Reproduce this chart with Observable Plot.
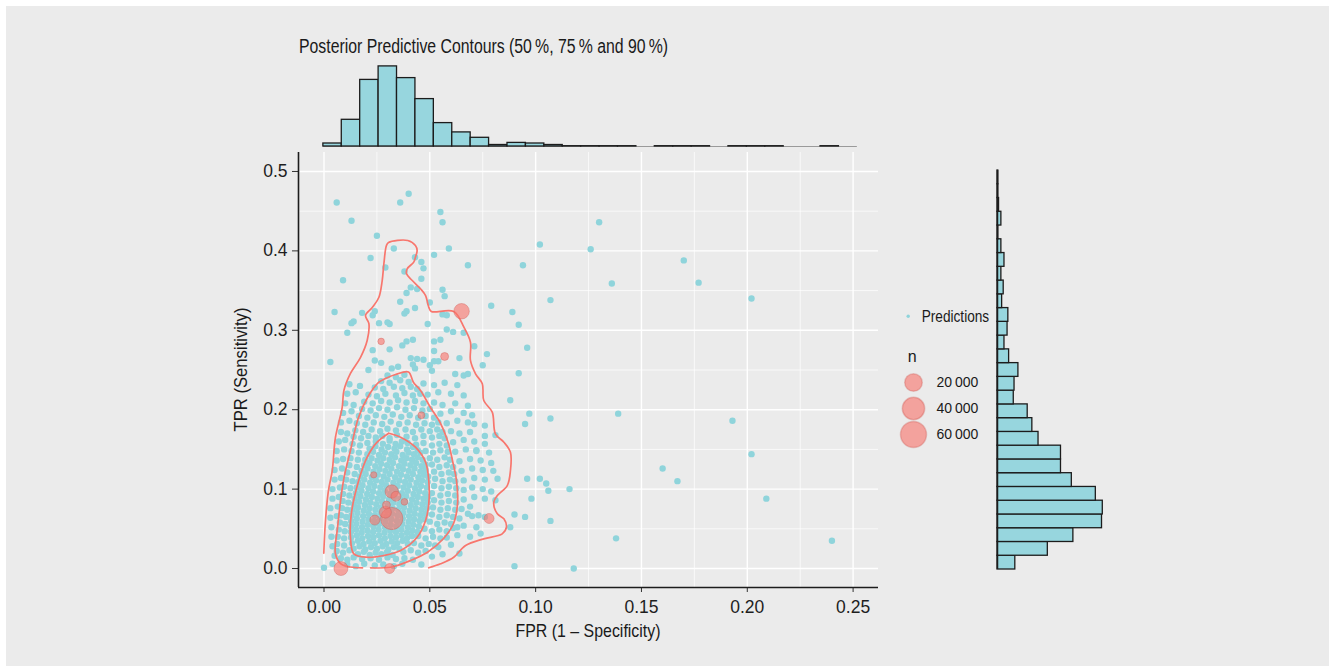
<!DOCTYPE html>
<html><head><meta charset="utf-8">
<script src="https://cdn.jsdelivr.net/npm/d3@7"></script>
<script src="https://cdn.jsdelivr.net/npm/@observablehq/plot@0.6"></script>
<style>
html,body{margin:0;padding:0;background:#fff;}
#root{position:relative;width:1335px;height:672px;overflow:hidden;background:#fff}
#panel{position:absolute;left:6px;top:6px;width:1323px;height:660px;background:#ebebeb}
.abs{position:absolute}
.abs svg{display:block;overflow:visible}
</style></head><body>
<div id="root"><div id="panel"></div></div>
<script>
// ---------------- data ----------------
const title = "Posterior Predictive Contours (50\u2009%, 75\u2009% and 90\u2009%)";
const xLabel = "FPR (1 \u2013 Specificity)";
const yLabel = "TPR (Sensitivity)";
const xMajorTicks = [0, 0.05, 0.10, 0.15, 0.20, 0.25];
const xMinorTicks = [0.025, 0.075, 0.125, 0.175, 0.225];
const yMajorTicks = [0, 0.1, 0.2, 0.3, 0.4, 0.5];
const yMinorTicks = [0.05, 0.15, 0.25, 0.35, 0.45];

// observed studies (red circles)
const studyFPR = [0.065, 0.057, 0.027, 0.046, 0.032, 0.034, 0.038, 0.0295, 0.029, 0.032, 0.024, 0.078, 0.008, 0.031, 0.0235];
const studyTPR = [0.324, 0.267, 0.286, 0.193, 0.097, 0.091, 0.084, 0.080, 0.071, 0.063, 0.061, 0.063, 0.000, 0.000, 0.118];
const studyN   = [13500, 600, 50, 150, 8200, 2400, 100, 600, 5400, 40000, 2400, 2400, 9600, 2400, 20];
const legendN = [20000, 40000, 60000];

// posterior predictions (cyan points) [FPR, TPR]
const predSparse = [[0.006,0.461],[0.040,0.472],[0.036,0.461],[0.013,0.438],[0.055,0.449],[0.056,0.436],[0.130,0.436],[0.025,0.419],[0.102,0.408],[0.126,0.402],[0.033,0.403],[0.059,0.403],[0.022,0.391],[0.052,0.395],[0.043,0.392],[0.046,0.386],[0.047,0.378],[0.029,0.379],[0.068,0.382],[0.094,0.382],[0.038,0.374],[0.009,0.363],[0.046,0.365],[0.041,0.354],[0.044,0.352],[0.056,0.351],[0.057,0.343],[0.039,0.347],[0.107,0.338],[0.036,0.336],[0.050,0.335],[0.079,0.331],[0.089,0.323],[0.005,0.323],[0.018,0.322],[0.024,0.324],[0.023,0.319],[0.043,0.328],[0.039,0.324],[0.038,0.321],[0.056,0.320],[0.058,0.319],[0.014,0.311],[0.013,0.309],[0.026,0.309],[0.030,0.310],[0.031,0.308],[0.049,0.308],[0.092,0.307],[0.011,0.297],[0.058,0.301],[0.061,0.298],[0.066,0.297],[0.042,0.288],[0.052,0.286],[0.055,0.288],[0.039,0.286],[0.037,0.281],[0.071,0.280],[0.096,0.278],[0.023,0.275],[0.031,0.276],[0.052,0.274],[0.077,0.270],[0.003,0.260],[0.024,0.262],[0.027,0.259],[0.041,0.265],[0.044,0.264],[0.047,0.263],[0.052,0.261],[0.054,0.261],[0.064,0.265],[0.075,0.256],[0.021,0.250],[0.032,0.252],[0.035,0.254],[0.042,0.257],[0.043,0.252],[0.050,0.256],[0.051,0.249],[0.062,0.245],[0.066,0.243],[0.068,0.245],[0.092,0.246],
[0.170,0.388],[0.136,0.359],[0.177,0.360],[0.202,0.340],[0.139,0.195],[0.193,0.186],[0.160,0.126],[0.167,0.110],[0.202,0.144],[0.209,0.088],[0.138,0.038],[0.240,0.035],
[0.088,0.212],[0.097,0.195],[0.107,0.189],[0.071,0.182],[0.076,0.180],[0.095,0.182],[0.081,0.168],[0.076,0.167],[0.072,0.149],[0.080,0.123],[0.082,0.113],[0.096,0.113],[0.102,0.113],[0.105,0.107],[0.106,0.098],[0.116,0.100],[0.098,0.088],[0.090,0.068],[0.095,0.065],[0.107,0.060],[0.088,0.052],[0.074,0.044],[0.090,0.003],[0.118,0.000],[0.081,0.086],[0.076,0.065],[0.073,0.067],[0.068,0.069],[0.063,0.052],[0.064,0.019],[0.000,0.001]];

const predOuter = [[0.012,0.232],[0.017,0.230],[0.047,0.233],[0.052,0.231],[0.057,0.234],[0.063,0.231],
[0.011,0.220],[0.015,0.222],[0.049,0.219],[0.054,0.222],[0.060,0.220],[0.066,0.218],
[0.010,0.208],[0.014,0.206],[0.052,0.209],[0.056,0.206],[0.062,0.208],[0.068,0.205],
[0.009,0.196],[0.013,0.198],[0.055,0.195],[0.060,0.198],[0.066,0.196],[0.070,0.193],
[0.008,0.184],[0.012,0.186],[0.058,0.183],[0.063,0.186],[0.068,0.184],
[0.008,0.172],[0.011,0.170],[0.060,0.173],[0.064,0.170],[0.069,0.172],
[0.007,0.160],[0.010,0.162],[0.061,0.159],[0.066,0.162],[0.071,0.160],[0.076,0.157],
[0.006,0.148],[0.0095,0.150],[0.062,0.147],[0.067,0.150],[0.072,0.148],[0.078,0.146],
[0.006,0.136],[0.009,0.138],[0.064,0.135],[0.069,0.138],[0.074,0.136],[0.079,0.133],
[0.005,0.124],[0.0085,0.126],[0.065,0.123],[0.070,0.126],[0.075,0.124],
[0.005,0.112],[0.008,0.114],[0.066,0.111],[0.071,0.114],[0.076,0.112],
[0.004,0.100],[0.0075,0.102],[0.066,0.099],[0.070,0.102],[0.075,0.100],[0.079,0.097],
[0.004,0.088],[0.007,0.090],[0.066,0.087],[0.071,0.090],[0.076,0.088],
[0.003,0.076],[0.0065,0.078],[0.065,0.075],[0.069,0.078],
[0.003,0.064],[0.006,0.066],[0.064,0.063],[0.070,0.066],
[0.0035,0.052],[0.061,0.051],[0.066,0.054],[0.072,0.052],
[0.0035,0.040],[0.058,0.039],[0.063,0.042],[0.069,0.040],
[0.004,0.028],[0.054,0.027],[0.060,0.030],
[0.005,0.016],[0.051,0.015],[0.056,0.018],
[0.004,0.006],[0.046,0.005]];

const predRing = [[0.030,0.243],[0.034,0.241],[0.038,0.244],
[0.027,0.236],[0.031,0.234],[0.036,0.237],[0.040,0.235],
[0.024,0.228],[0.028,0.226],[0.033,0.229],[0.037,0.227],[0.041,0.229],[0.044,0.226],
[0.021,0.219],[0.025,0.217],[0.029,0.220],[0.034,0.218],[0.038,0.221],[0.042,0.218],[0.0455,0.220],
[0.019,0.210],[0.023,0.208],[0.027,0.211],[0.031,0.209],[0.035,0.212],[0.039,0.209],[0.043,0.211],[0.047,0.208],
[0.018,0.201],[0.022,0.199],[0.026,0.202],[0.030,0.200],[0.0345,0.203],[0.0385,0.200],[0.0425,0.202],[0.0465,0.199],[0.050,0.201],
[0.0165,0.192],[0.0205,0.190],[0.0245,0.193],[0.0285,0.191],[0.0325,0.194],[0.0365,0.191],[0.0405,0.193],[0.0445,0.190],[0.048,0.192],[0.052,0.190],
[0.0155,0.183],[0.0195,0.181],[0.0235,0.184],[0.0275,0.182],[0.0315,0.185],[0.0355,0.182],[0.0395,0.184],[0.0435,0.181],[0.0475,0.183],[0.051,0.181],[0.054,0.184],
[0.0148,0.174],[0.0185,0.172],[0.0225,0.175],[0.0265,0.173],[0.030,0.176],[0.034,0.174],[0.0385,0.175],[0.042,0.172],[0.046,0.175],[0.050,0.173],[0.0535,0.175],[0.056,0.172],
[0.014,0.166],[0.0175,0.164],[0.021,0.167],[0.0245,0.165],[0.039,0.166],[0.043,0.164],[0.047,0.167],[0.051,0.165],[0.0545,0.167],[0.057,0.164],
[0.0135,0.157],[0.017,0.155],[0.0205,0.158],[0.0435,0.156],[0.047,0.158],[0.051,0.155],[0.0545,0.157],[0.058,0.155],
[0.013,0.148],[0.0165,0.146],[0.048,0.148],[0.0515,0.146],[0.055,0.149],[0.0585,0.147],
[0.0125,0.139],[0.016,0.137],[0.050,0.139],[0.0535,0.137],[0.057,0.140],[0.0595,0.137],
[0.012,0.130],[0.0155,0.128],[0.051,0.131],[0.0545,0.128],[0.058,0.130],[0.061,0.128],
[0.011,0.121],[0.0145,0.119],[0.052,0.122],[0.0555,0.119],[0.059,0.121],[0.0615,0.119],
[0.0105,0.112],[0.0135,0.110],[0.0525,0.113],[0.056,0.110],[0.0595,0.112],[0.062,0.110],
[0.0095,0.103],[0.0125,0.101],[0.052,0.104],[0.0555,0.101],[0.059,0.103],[0.0625,0.101],
[0.009,0.094],[0.012,0.092],[0.051,0.095],[0.055,0.092],[0.0585,0.094],[0.062,0.092],
[0.0088,0.085],[0.0115,0.083],[0.052,0.086],[0.0555,0.083],[0.059,0.085],[0.0625,0.083],
[0.0085,0.076],[0.011,0.074],[0.0515,0.077],[0.055,0.074],[0.0585,0.076],[0.062,0.074],
[0.008,0.067],[0.0105,0.065],[0.051,0.068],[0.0545,0.065],[0.058,0.067],[0.061,0.065],
[0.0075,0.058],[0.010,0.056],[0.050,0.059],[0.0535,0.056],[0.057,0.058],[0.060,0.056],
[0.007,0.049],[0.0098,0.047],[0.0475,0.050],[0.051,0.047],[0.0545,0.049],[0.058,0.047],
[0.0065,0.040],[0.0095,0.038],[0.0445,0.041],[0.048,0.038],[0.0515,0.040],[0.055,0.038],
[0.0062,0.031],[0.0095,0.029],[0.0425,0.032],[0.046,0.029],[0.0495,0.031],[0.0525,0.029],
[0.006,0.022],[0.009,0.020],[0.012,0.023],[0.0375,0.021],[0.041,0.023],[0.0445,0.020],[0.048,0.022],
[0.008,0.013],[0.011,0.011],[0.014,0.014],[0.018,0.012],[0.022,0.013],[0.026,0.011],[0.030,0.014],[0.034,0.012],[0.038,0.013],[0.042,0.011],
[0.011,0.005],[0.015,0.003],[0.019,0.006],[0.024,0.004],[0.028,0.005],[0.033,0.003],[0.037,0.006]];

const predCore = [[0.0275,0.167],[0.031,0.164],[0.0345,0.168],
[0.0245,0.160],[0.0278,0.157],[0.031,0.161],[0.0338,0.157],[0.0368,0.160],[0.0395,0.158],
[0.0215,0.151],[0.0243,0.154],[0.0272,0.150],[0.0303,0.153],[0.0333,0.151],[0.036,0.154],[0.0392,0.150],[0.042,0.153],[0.0443,0.149],
[0.0205,0.144],[0.0232,0.147],[0.026,0.143],[0.0288,0.146],[0.0318,0.144],[0.0342,0.147],[0.0372,0.143],[0.040,0.146],[0.0425,0.144],[0.0455,0.146],
[0.0195,0.137],[0.0225,0.139],[0.0253,0.136],[0.028,0.139],[0.031,0.137],[0.0336,0.140],[0.0365,0.136],[0.039,0.139],[0.0416,0.137],[0.0442,0.140],[0.0466,0.137],
[0.019,0.130],[0.0215,0.133],[0.0242,0.129],[0.027,0.132],[0.0298,0.130],[0.0326,0.133],[0.0354,0.129],[0.038,0.132],[0.0408,0.130],[0.0435,0.133],[0.046,0.129],[0.048,0.131],
[0.0178,0.123],[0.0206,0.126],[0.0234,0.122],[0.0262,0.125],[0.029,0.123],[0.0318,0.126],[0.0345,0.122],[0.0373,0.125],[0.040,0.123],[0.0428,0.126],[0.0455,0.122],[0.048,0.124],
[0.017,0.116],[0.0197,0.119],[0.0226,0.115],[0.0254,0.118],[0.0282,0.116],[0.031,0.119],[0.0336,0.115],[0.0364,0.118],[0.0392,0.116],[0.042,0.119],[0.0446,0.115],[0.0472,0.118],[0.0492,0.116],
[0.0162,0.109],[0.019,0.112],[0.0218,0.108],[0.0246,0.111],[0.0273,0.109],[0.030,0.112],[0.0328,0.108],[0.0356,0.111],[0.0383,0.109],[0.041,0.112],[0.0437,0.108],[0.0463,0.111],[0.049,0.109],
[0.0155,0.102],[0.0182,0.105],[0.021,0.101],[0.0238,0.104],[0.0266,0.102],[0.0293,0.105],[0.032,0.101],[0.0348,0.104],[0.0376,0.102],[0.0403,0.105],[0.043,0.101],[0.0458,0.104],[0.0486,0.102],
[0.015,0.095],[0.0177,0.098],[0.0204,0.094],[0.0232,0.097],[0.026,0.095],[0.0287,0.098],[0.0313,0.094],[0.034,0.097],[0.0368,0.095],[0.0396,0.098],[0.0423,0.094],[0.045,0.097],[0.0478,0.095],
[0.0145,0.088],[0.0172,0.091],[0.0198,0.087],[0.0226,0.090],[0.0253,0.088],[0.028,0.091],[0.0307,0.087],[0.0334,0.090],[0.0361,0.088],[0.0388,0.091],[0.0416,0.087],[0.0443,0.090],[0.047,0.088],[0.0492,0.090],
[0.014,0.081],[0.0166,0.084],[0.0193,0.080],[0.022,0.083],[0.0247,0.081],[0.0275,0.084],[0.0302,0.080],[0.0328,0.083],[0.0356,0.081],[0.0383,0.084],[0.041,0.080],[0.0437,0.083],[0.0465,0.081],[0.049,0.083],
[0.0135,0.074],[0.0161,0.077],[0.0188,0.073],[0.0215,0.076],[0.0243,0.074],[0.027,0.077],[0.0297,0.073],[0.0324,0.076],[0.0351,0.074],[0.0378,0.077],[0.0405,0.073],[0.0433,0.076],[0.046,0.074],[0.0486,0.076],
[0.013,0.067],[0.0158,0.070],[0.0185,0.066],[0.0212,0.069],[0.024,0.067],[0.0267,0.070],[0.0294,0.066],[0.0321,0.069],[0.0348,0.067],[0.0375,0.070],[0.0402,0.066],[0.0428,0.069],[0.0455,0.067],[0.048,0.069],
[0.0128,0.060],[0.0155,0.063],[0.0182,0.059],[0.021,0.062],[0.0237,0.060],[0.0264,0.063],[0.029,0.059],[0.0318,0.062],[0.0345,0.060],[0.0372,0.063],[0.040,0.059],[0.0426,0.062],[0.0452,0.060],[0.0476,0.062],
[0.0127,0.053],[0.0153,0.056],[0.018,0.052],[0.0207,0.055],[0.0234,0.053],[0.026,0.056],[0.0288,0.052],[0.0315,0.055],[0.0342,0.053],[0.037,0.056],[0.0396,0.052],[0.0422,0.055],[0.0448,0.053],
[0.0127,0.046],[0.0152,0.049],[0.0178,0.045],[0.0205,0.048],[0.0232,0.046],[0.0258,0.049],[0.0286,0.045],[0.0313,0.048],[0.034,0.046],[0.0366,0.049],[0.0392,0.045],[0.0418,0.048],[0.0442,0.046],
[0.0128,0.039],[0.0155,0.042],[0.0181,0.038],[0.0208,0.041],[0.0234,0.039],[0.026,0.042],[0.0287,0.038],[0.0314,0.041],[0.034,0.039],[0.0366,0.042],[0.0392,0.038],[0.0416,0.041],
[0.0132,0.032],[0.016,0.035],[0.0187,0.031],[0.0214,0.034],[0.024,0.032],[0.0267,0.035],[0.0294,0.031],[0.032,0.034],[0.0346,0.032],[0.0372,0.035],[0.0396,0.031],
[0.014,0.025],[0.0168,0.028],[0.0195,0.024],[0.0222,0.027],[0.025,0.025],[0.0277,0.028],[0.0304,0.024],[0.033,0.027],[0.0356,0.025],
[0.016,0.018],[0.0188,0.021],[0.0216,0.017],[0.0244,0.020],[0.0271,0.018],[0.0298,0.021],[0.0324,0.017]];

// posterior predictive contours [FPR, TPR]
const contour50 = [[0.0306,0.1704],[0.0362,0.1654],[0.0432,0.1528],[0.048,0.1339],[0.0495,0.1108],[0.0495,0.0815],[0.048,0.0605],[0.044,0.0394],[0.0362,0.0227],[0.0283,0.0164],[0.0204,0.0142],[0.0141,0.0185],[0.0125,0.0394],[0.0129,0.0689],[0.0164,0.1108],[0.0204,0.1402],[0.0251,0.1591],[0.0306,0.1704]];
const contour75 = [[0.0182,0.0009],[0.0125,0.0019],[0.0078,0.0063],[0.0054,0.0189],[0.0064,0.0516],[0.0092,0.1108],[0.0125,0.1486],[0.0163,0.1902],[0.0206,0.2154],[0.0258,0.2343],[0.0291,0.2393],[0.0338,0.2443],[0.0399,0.2475],[0.0423,0.2343],[0.0456,0.2242],[0.0503,0.2028],[0.0551,0.1826],[0.0588,0.1574],[0.0607,0.136],[0.0626,0.1108],[0.0631,0.0819],[0.0612,0.0567],[0.0565,0.0378],[0.0489,0.0205],[0.0409,0.0101],[0.0314,0.0016],[0.022,0.0009]];
const contour90 = [[-0.0001,0.0193],[0.0007,0.0605],[0.0021,0.0982],[0.0039,0.1234],[0.0054,0.165],[0.0086,0.2028],[0.0094,0.2242],[0.0125,0.2456],[0.0172,0.2657],[0.0204,0.2872],[0.0212,0.3086],[0.0196,0.3186],[0.0228,0.3287],[0.0259,0.3413],[0.0275,0.3627],[0.0283,0.3841],[0.0295,0.4068],[0.0305,0.4106],[0.0396,0.4131],[0.0432,0.4068],[0.044,0.4005],[0.0432,0.3921],[0.0424,0.3858],[0.0393,0.3775],[0.039,0.3712],[0.0417,0.3627],[0.0456,0.3523],[0.048,0.3438],[0.0495,0.3291],[0.0507,0.3237],[0.0613,0.3237],[0.0661,0.3039],[0.0692,0.285],[0.0692,0.262],[0.0716,0.2452],[0.0748,0.2326],[0.0755,0.2116],[0.0795,0.1969],[0.081,0.1696],[0.085,0.1591],[0.0881,0.1465],[0.0881,0.1234],[0.0866,0.1045],[0.0819,0.0919],[0.0802,0.0835],[0.0819,0.0689],[0.085,0.0626],[0.0862,0.052],[0.0842,0.0437],[0.0755,0.0374],[0.0669,0.029],[0.0613,0.0142],[0.0551,0.0059],[0.0495,0.0009]];

// marginal histograms
const fprBinStart = -0.0003, fprBinWidth = 0.0087;
const fprCounts = [10, 89, 222, 267, 228, 158, 78, 47, 29, 5, 12, 10, 5, 1, 1, 1, 1, 0, 1, 1, 1, 0, 1, 1, 1, 0, 0, 1, 0];
const tprBinWidth = 0.5 / 29;
const tprCounts = [23, 65, 98, 135, 136, 127, 96, 82, 82, 53, 45, 39, 21, 22, 27, 15, 9, 13, 14, 6, 8, 5, 9, 5, 1, 5, 2, 1, 1];

// ---------------- drawing ----------------
const cyan = "#8fd4db", red = "#F8766D", histFill = "#97d6de", ink = "#1c1c1c";
const textFont = "Liberation Sans, Arial, sans-serif";
const numFont = "Liberation Sans, Arial, sans-serif";
const xDom = [-0.01205, 0.262], yDom = [-0.0239, 0.5239];
const rScale = {type: "sqrt", domain: [0, 65000], range: [3, 13.4]};
const root = document.getElementById("root");
function place(node, left, top) {
  const d = document.createElement("div");
  d.className = "abs"; d.style.left = left + "px"; d.style.top = top + "px";
  d.appendChild(node); root.appendChild(d);
}
const preds = [...predSparse, ...predOuter, ...predRing, ...predCore].map(([f, t]) => ({fpr: f, tpr: t}));
const studies = studyFPR.map((f, i) => ({fpr: f, tpr: studyTPR[i], n: studyN[i]})).sort((a, b) => b.n - a.n);
const contours = [
  ...contour90.map(([f, t]) => ({fpr: f, tpr: t, level: "90"})),
  ...contour75.map(([f, t]) => ({fpr: f, tpr: t, level: "75"})),
  ...contour50.map(([f, t]) => ({fpr: f, tpr: t, level: "50"}))
];

const main = Plot.plot({
  width: 700, height: 510, marginLeft: 98, marginRight: 22, marginTop: 12, marginBottom: 63,
  style: {background: "transparent", fontFamily: numFont, fontSize: "17.5px", color: "#1e1e1e", overflow: "visible"},
  x: {domain: xDom}, y: {domain: yDom}, r: rScale,
  marks: [
    Plot.ruleX(xMinorTicks, {stroke: "#fff", strokeWidth: 0.7}),
    Plot.ruleY(yMinorTicks, {stroke: "#fff", strokeWidth: 0.7}),
    Plot.ruleX(xMajorTicks, {stroke: "#fff", strokeWidth: 1.4}),
    Plot.ruleY(yMajorTicks, {stroke: "#fff", strokeWidth: 1.4}),
    Plot.dot(preds, {x: "fpr", y: "tpr", r: 3.2, fill: cyan}),
    Plot.line(contours, {x: "fpr", y: "tpr", z: "level", stroke: red, strokeWidth: 1.7, curve: "catmull-rom"}),
    Plot.dot(studies, {x: "fpr", y: "tpr", r: "n", fill: red, fillOpacity: 0.62, stroke: "#c9534c", strokeOpacity: 0.35, strokeWidth: 1}),
    Plot.axisX({ticks: xMajorTicks, tickFormat: d3.format(".2f"), tickSize: 5, tickPadding: 8, label: null, stroke: "#333", fontSize: 17.5, fontFamily: numFont}),
    Plot.axisY({ticks: yMajorTicks, tickFormat: d3.format(".1f"), tickSize: 6, tickPadding: 5, label: null, stroke: "#333", fontSize: 17.5, fontFamily: numFont}),
    Plot.ruleX([xDom[0]], {y1: yDom[0], y2: yDom[1], stroke: ink, strokeWidth: 1.6}),
    Plot.ruleY([yDom[0]], {x1: xDom[0], x2: xDom[1], stroke: ink, strokeWidth: 1.6})
  ]
});
place(main, 200, 140);

const topBins = fprCounts.map((c, i) => ({x1: fprBinStart + i * fprBinWidth, x2: fprBinStart + (i + 1) * fprBinWidth, count: c}));
const topHist = Plot.plot({
  width: 700, height: 100, marginLeft: 98, marginRight: 22, marginTop: 0, marginBottom: 4,
  style: {background: "transparent", overflow: "visible"},
  x: {domain: xDom, axis: null}, y: {domain: [0, 320], axis: null},
  marks: [
    Plot.ruleY([0], {x1: fprBinStart, x2: fprBinStart + fprCounts.length * fprBinWidth, stroke: "#9a9a9a", strokeWidth: 1.2}),
    Plot.rectY(topBins.filter(d => d.count > 0), {x1: "x1", x2: "x2", y: "count", fill: histFill, stroke: ink, strokeWidth: 1.3})
  ]
});
place(topHist, 200, 50);

const rightBins = tprCounts.map((c, i) => ({y1: i * tprBinWidth, y2: (i + 1) * tprBinWidth, count: c}));
const rightHist = Plot.plot({
  width: 130, height: 420, marginLeft: 7, marginRight: 3, marginTop: 10, marginBottom: 11,
  style: {background: "transparent", overflow: "visible"},
  x: {domain: [0, 155], axis: null}, y: {domain: [0, 0.5], axis: null},
  marks: [
    Plot.rectX(rightBins, {y1: "y1", y2: "y2", x: "count", fill: histFill, stroke: ink, strokeWidth: 1.3}),
    Plot.ruleX([0], {stroke: ink, strokeWidth: 1.5})
  ]
});
place(rightHist, 990, 160);

const fmtN = n => d3.format(",")(n).replace(",", "\u2009");
const legend = Plot.plot({
  width: 100, height: 150, margin: 0,
  style: {background: "transparent", overflow: "visible"},
  y: {type: "point", domain: legendN, range: [81, 134], padding: 0, axis: null}, r: rScale,
  marks: [
    Plot.dot(["Predictions"], {frameAnchor: "top-left", dx: 12.7, dy: 15.7, r: 1.7, fill: cyan}),
    Plot.dot(legendN, {y: d => d, r: d => d, frameAnchor: "left", dx: 18, fill: red, fillOpacity: 0.62, stroke: "#c9534c", strokeOpacity: 0.3}),
    Plot.text(legendN, {y: d => d, text: fmtN, frameAnchor: "left", dx: 41, textAnchor: "start", fontFamily: numFont, fontSize: 14, fill: "#1a1a1a"})
  ]
});
place(legend, 895, 300);

// text labels
const ns = "http://www.w3.org/2000/svg";
const over = document.createElementNS(ns, "svg");
over.setAttribute("width", 1335); over.setAttribute("height", 672);
over.style.position = "absolute"; over.style.left = "0"; over.style.top = "0"; over.style.pointerEvents = "none";
function addText(str, x, y, opts) {
  const t = document.createElementNS(ns, "text");
  t.textContent = str; t.setAttribute("x", x); t.setAttribute("y", y);
  t.setAttribute("font-family", opts.font || textFont); t.setAttribute("font-size", opts.size);
  t.setAttribute("fill", "#1a1a1a");
  if (opts.anchor) t.setAttribute("text-anchor", opts.anchor);
  if (opts.len) { t.setAttribute("textLength", opts.len); t.setAttribute("lengthAdjust", "spacingAndGlyphs"); }
  if (opts.rotate) t.setAttribute("transform", `rotate(-90 ${x} ${y})`);
  over.appendChild(t);
}
addText(title, 299, 52.7, {size: 20, len: 369});
addText(xLabel, 588, 636.5, {size: 19, anchor: "middle", len: 145});
addText(yLabel, 247, 369.5, {size: 19, anchor: "middle", rotate: true, len: 124});
addText("Predictions", 921.7, 321.5, {size: 16, len: 67.5});
addText("n", 907.7, 362.3, {size: 16});
root.appendChild(over);
</script>
</body></html>
